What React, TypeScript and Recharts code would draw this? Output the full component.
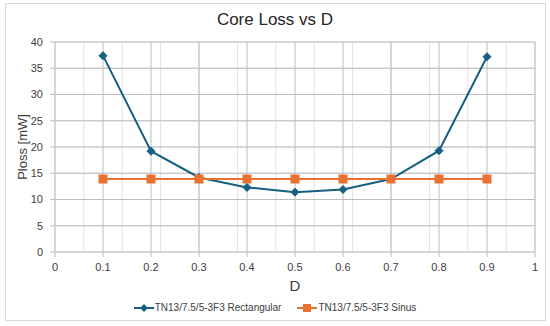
import { LineChart, Line, XAxis, YAxis, CartesianGrid } from 'recharts';

const dValues = [0.1, 0.2, 0.3, 0.4, 0.5, 0.6, 0.7, 0.8, 0.9];
const rectangular = [37.4, 19.2, 14.2, 12.3, 11.4, 11.9, 13.9, 19.3, 37.2];
const sinus = [13.9, 13.9, 13.9, 13.9, 13.9, 13.9, 13.9, 13.9, 13.9];
const xTicks = [0, 0.1, 0.2, 0.3, 0.4, 0.5, 0.6, 0.7, 0.8, 0.9, 1];
const yTicks = [0, 5, 10, 15, 20, 25, 30, 35, 40];
const xMinor = Array.from({ length: 51 }, (_, i) => i / 50);
const yMinor = Array.from({ length: 41 }, (_, i) => i);

const data = dValues.map((d, i) => ({ d, rect: rectangular[i], sinus: sinus[i] }));

const BLUE = '#156082';
const ORANGE = '#E97132';
const GRID = '#bcbcbc';
const FONT = '"Liberation Sans", Arial, sans-serif';

function Diamond(props: any) {
    const { cx, cy } = props;
    if (cx == null || cy == null) return null;
    const r = 4;
    return <path d={`M${cx},${cy - r}L${cx + r},${cy}L${cx},${cy + r}L${cx - r},${cy}Z`} fill={BLUE} stroke={BLUE} />;
}

function Square(props: any) {
    const { cx, cy } = props;
    if (cx == null || cy == null) return null;
    return <rect x={cx - 4.5} y={cy - 4.5} width={9} height={9} fill={ORANGE} />;
}

function LegendBox() {
    const item = (color: string, label: string, marker: 'd' | 's', mr: number) => (
        <div style={{ display: 'flex', alignItems: 'center', marginRight: mr }}>
            <svg width={20} height={10}>
                <line x1={0} y1={5} x2={20} y2={5} stroke={color} strokeWidth={2} />
                {marker === 'd' ? (
                    <path d="M10,1L14,5L10,9L6,5Z" fill={color} />
                ) : (
                    <rect x={6} y={1} width={8} height={8} fill={color} />
                )}
            </svg>
            <span style={{ fontSize: 10, color: '#404040', marginLeft: 1 }}>{label}</span>
        </div>
    );
    return (
        <div
            style={{
                position: 'absolute',
                top: 302,
                left: 0,
                width: 550,
                display: 'flex',
                justifyContent: 'center',
                fontFamily: FONT,
            }}
        >
            {item(BLUE, 'TN13/7.5/5-3F3 Rectangular', 'd', 16)}
            {item(ORANGE, 'TN13/7.5/5-3F3 Sinus', 's', 0)}
        </div>
    );
}

export default function App() {
    return (
        <div style={{ position: 'absolute', left: 0, top: 0, width: 550, height: 326, background: '#fff', fontFamily: FONT }}>
            <div
                style={{
                    position: 'absolute',
                    left: 5,
                    top: 3,
                    width: 541,
                    height: 318,
                    border: '1px solid #d9d9d9',
                    boxSizing: 'border-box',
                }}
            />
            <div style={{ position: 'absolute', top: 10, width: 550, textAlign: 'center', fontSize: 17, color: '#262626' }}>
                Core Loss vs D
            </div>
            <LineChart width={550} height={326} data={data} margin={{ top: 42, right: 15, bottom: 44, left: 20 }}>
                <CartesianGrid
                    stroke="#e2e2e2"
                    strokeWidth={1}
                    horizontalValues={yMinor}
                    verticalValues={xMinor}
                />
                <CartesianGrid stroke={GRID} strokeWidth={1} horizontalValues={yTicks} verticalValues={xTicks} />
                <XAxis
                    dataKey="d"
                    type="number"
                    domain={[0, 1]}
                    ticks={xTicks}
                    height={30}
                    axisLine={false}
                    tickLine={{ stroke: GRID }}
                    tickSize={5}
                    tick={{ fill: '#404040', fontSize: 11 }}
                    tickMargin={6}
                    label={{ value: 'D', position: 'insideBottom', offset: -9, fill: '#404040', fontSize: 15 }}
                />
                <YAxis
                    type="number"
                    domain={[0, 40]}
                    ticks={yTicks}
                    width={35}
                    axisLine={false}
                    tickLine={{ stroke: GRID }}
                    tickSize={5}
                    tick={{ fill: '#404040', fontSize: 11 }}
                    tickMargin={7}
                    label={{
                        value: 'Ploss [mW]',
                        angle: -90,
                        position: 'insideLeft',
                        offset: 2,
                        style: { textAnchor: 'middle', fill: '#404040', fontSize: 13 },
                    }}
                />
                <Line
                    dataKey="rect"
                    stroke={BLUE}
                    strokeWidth={2}
                    dot={<Diamond />}
                    activeDot={false}
                    isAnimationActive={false}
                />
                <Line
                    dataKey="sinus"
                    stroke={ORANGE}
                    strokeWidth={2}
                    dot={<Square />}
                    activeDot={false}
                    isAnimationActive={false}
                />
            </LineChart>
            <LegendBox />
        </div>
    );
}
